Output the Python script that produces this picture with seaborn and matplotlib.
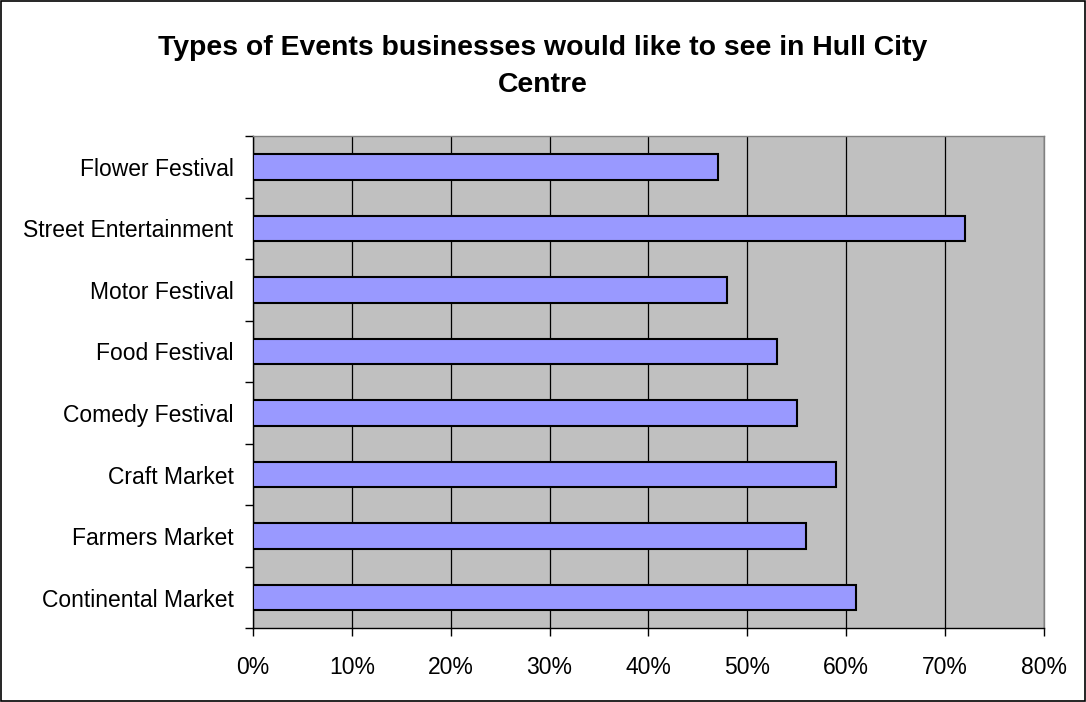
import matplotlib
matplotlib.use("Agg")
import pandas as pd
import seaborn as sns
from matplotlib import pyplot as plt
from matplotlib.patches import Rectangle
from matplotlib.ticker import FixedLocator, PercentFormatter

EVENTS = [
    "Flower Festival",
    "Street Entertainment",
    "Motor Festival",
    "Food Festival",
    "Comedy Festival",
    "Craft Market",
    "Farmers Market",
    "Continental Market",
]
SHARE = [0.47, 0.72, 0.48, 0.53, 0.55, 0.59, 0.56, 0.61]
X_TICKS = [0.0, 0.1, 0.2, 0.3, 0.4, 0.5, 0.6, 0.7, 0.8]


def main():
    df = pd.DataFrame({"event": EVENTS, "share": SHARE})

    sns.set_style("white")
    plt.rcParams["font.family"] = ["Liberation Sans", "DejaVu Sans"]
    plt.rcParams["text.color"] = "black"

    fig = plt.figure(figsize=(10.86, 7.02), dpi=100)
    ax = fig.add_axes([0.233, 0.105, 0.728, 0.701])
    ax.set_facecolor("#C0C0C0")

    sns.barplot(
        data=df, x="share", y="event", orient="h", ax=ax,
        color="#9999FF", saturation=1, width=0.41,
        edgecolor="black", linewidth=1.5, zorder=3,
    )

    # x axis: percentages with black vertical gridlines
    ax.set_xlim(0, 0.8)
    ax.xaxis.set_major_locator(FixedLocator(X_TICKS))
    ax.xaxis.set_major_formatter(PercentFormatter(1.0, decimals=0))
    ax.grid(axis="x", color="black", linewidth=0.9, zorder=1)
    ax.set_axisbelow(True)
    ax.tick_params(axis="x", direction="out", length=6, width=1,
                   color="black", labelcolor="black", labelsize=16.5,
                   pad=14, bottom=True)

    # y axis: labels at centres, small ticks between categories
    ax.set_ylim(len(EVENTS) - 0.5, -0.5)
    ax.yaxis.set_minor_locator(FixedLocator([i - 0.5 for i in range(len(EVENTS) + 1)]))
    ax.tick_params(axis="y", which="major", length=0, labelsize=16.5,
                   labelcolor="black", pad=14)
    ax.tick_params(axis="y", which="minor", direction="out", length=6,
                   width=1, color="black", left=True)

    ax.set_xlabel("")
    ax.set_ylabel("")

    for side in ["left", "bottom"]:
        ax.spines[side].set_color("black")
        ax.spines[side].set_linewidth(1)
    for side in ["top", "right"]:
        ax.spines[side].set_color("#808080")
        ax.spines[side].set_linewidth(1)

    fig.text(
        0.5, 0.905,
        "Types of Events businesses would like to see in Hull City\nCentre",
        ha="center", va="center", fontsize=20.4, fontweight="bold",
        color="black", linespacing=1.56,
    )

    # outer chart border
    fig.patches.append(Rectangle((0.001, 0.001), 0.998, 0.998, transform=fig.transFigure,
                                 fill=False, edgecolor="black", linewidth=1.2))

    fig.savefig("out.png", dpi=100)


if __name__ == "__main__":
    main()
